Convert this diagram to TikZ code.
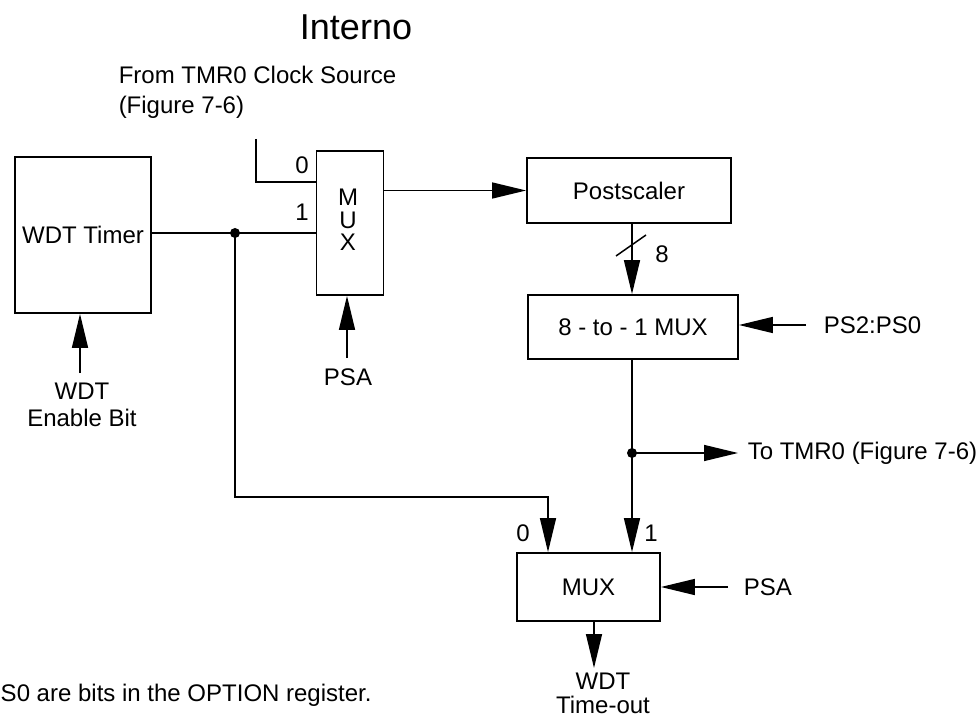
\documentclass[tikz,border=0pt]{standalone}
\usepackage{fontspec}
\setmainfont{Liberation Sans}
\usetikzlibrary{arrows.meta}
\begin{document}
\begin{tikzpicture}[x=1pt,y=-1pt, line width=1.5pt,
  blk/.style={draw, rectangle, inner sep=0pt, line width=1.8pt, font=\fontsize{24}{28}\selectfont},
  lbl/.style={inner sep=0pt, font=\fontsize{24}{28}\selectfont},
  arr/.style={-{Triangle[length=34pt,width=16pt]}}]
\useasboundingbox (0,0) rectangle (980,719);

% texts
\node[lbl, font=\fontsize{36}{40}\selectfont] (title) at (356,27) {Interno};
\node[lbl, anchor=west] (from1) at (118,75) {From TMR0 Clock Source};
\node[lbl, anchor=west] (from2) at (118,107) {(Figure 7-6)};

% blocks
\node[blk, minimum width=136pt, minimum height=156pt] (wdt) at (83,235) {WDT Timer};
\node[blk, minimum width=67pt, minimum height=144pt] (mux1) at (350,223) {};
\node[lbl, align=center, font=\fontsize{24}{22.5}\selectfont] (mux1txt) at (348,220) {M\\U\\X};
\node[blk, minimum width=204pt, minimum height=65pt] (post) at (629,190.5) {Postscaler};
\node[blk, minimum width=210pt, minimum height=64pt] (sel) at (633,327) {8 - to - 1 MUX};
\node[blk, minimum width=143pt, minimum height=68pt] (mux2) at (588.5,587) {MUX};

% labels
\node[lbl] (l0a) at (302,165) {0};
\node[lbl] (l1a) at (302,212) {1};
\node[lbl] (l8) at (662,254) {8};
\node[lbl] (l0b) at (523,533) {0};
\node[lbl] (l1b) at (651,533) {1};
\node[lbl, anchor=west] (ps) at (823,325) {PS2:PS0};
\node[lbl, anchor=west] (totmr) at (747,453) {To TMR0 (Figure 7-6)};
\node[lbl, anchor=west] (psa2) at (743,587) {PSA};
\node[lbl] (psa1) at (348,377) {PSA};
\node[lbl, align=center, font=\fontsize{24}{26.5}\selectfont] (en) at (82,405) {WDT\\Enable Bit};
\node[lbl, align=center, font=\fontsize{24}{24}\selectfont] (tout) at (603,693) {WDT\\Time-out};
\node[lbl, anchor=west] (note) at (0,695) {S0 are bits in the OPTION register.};

% coordinates
\coordinate (dot1) at (235,233);
\coordinate (dot2) at (632,453);
\coordinate (src) at (256,139);
\path (mux1.west) ++(0,-41) coordinate (in0);
\coordinate (v) at (632,0);
\coordinate (fb) at (548,497);
\coordinate (out) at (594,668);
\coordinate (enb) at (80,373);
\coordinate (psab) at (347,358);

% connectors
\draw (wdt.east |- dot1) -- (mux1.west |- dot1);
\fill (dot1) circle (5pt);
\draw (src) |- (in0);
\draw[arr] (mux1.east |- post.west) -- (post.west);
\draw[arr] (post.south -| v) -- (sel.north -| v);
\draw (616,256) -- (646,235);
\draw (sel.south -| v) -- (dot2);
\fill (dot2) circle (5pt);
\draw[arr] (dot2) -- (mux2.north -| dot2);
\draw[arr, shorten >=9pt] (dot2) -- (totmr.west);
\draw[arr] (dot1) |- (fb) -- (mux2.north -| fb);
\draw[arr] ([xshift=-17pt]ps.west) -- (sel.east |- ps.west);
\draw[arr] ([xshift=-15pt]psa2.west) -- (mux2.east |- psa2.west);
\draw[arr] (mux2.south -| out) -- (out);
\draw[arr] (psab) -- (mux1.south -| psab);
\draw[arr] (enb) -- (wdt.south -| enb);
\end{tikzpicture}
\end{document}
